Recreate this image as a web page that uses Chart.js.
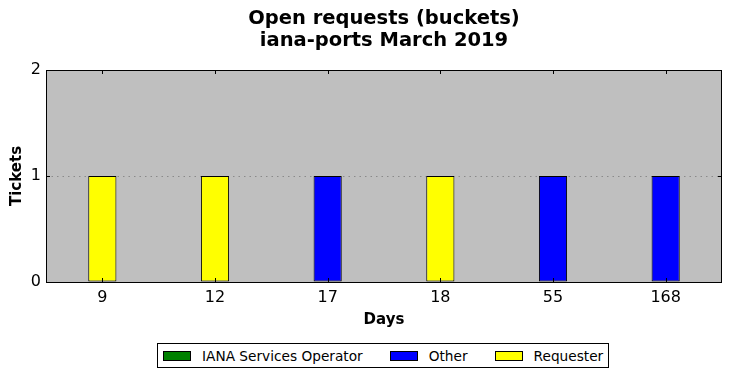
<!DOCTYPE html>
<html>
<head>
<meta charset="utf-8">
<script src="https://cdn.jsdelivr.net/npm/chart.js@4/dist/chart.umd.min.js"></script>
<style>
  html, body { margin: 0; padding: 0; background: #fff; }
  #wrap { position: relative; width: 731px; height: 378px; }
  #legend {
    position: absolute; left: 157px; top: 343px; height: 23px;
    border: 1px solid #000; background: #fff; box-sizing: content-box;
    display: flex; align-items: center; padding: 0 5px;
    font-family: "DejaVu Sans", sans-serif; font-size: 13.7px; color: #000;
    white-space: nowrap;
  }
  .item { display: flex; align-items: center; margin-right: 27px; }
  .item:last-child { margin-right: 0; }
  .box { width: 26px; height: 8px; border: 1px solid #000; margin-right: 11px; }
</style>
</head>
<body>
<div id="wrap">
  <canvas id="c" width="731" height="378"></canvas>
  <div id="legend"></div>
</div>
<script>
const titleLines = ["Open requests (buckets)", "iana-ports March 2019"];
const categories = ["9", "12", "17", "18", "55", "168"];
const seriesNames = ["IANA Services Operator", "Other", "Requester"];
const seriesColors = ["#008000", "#0000ff", "#ffff00"];
const ianaValues = [0, 0, 0, 0, 0, 0];
const otherValues = [0, 0, 1, 0, 1, 1];
const requesterValues = [1, 1, 0, 1, 0, 0];
const yTicks = [0, 1, 2];
const xTitle = "Days";
const yTitle = "Tickets";

const seriesValues = [ianaValues, otherValues, requesterValues];
const FONT = '"DejaVu Sans", sans-serif';

const frame = {
  id: 'frame',
  beforeDraw(chart) {
    const {ctx, chartArea: a} = chart;
    ctx.save();
    ctx.fillStyle = '#bfbfbf';
    ctx.fillRect(a.left, a.top, a.right - a.left, a.bottom - a.top);
    ctx.restore();
  },
  afterDraw(chart) {
    const {ctx, chartArea: a, scales} = chart;
    ctx.save();
    ctx.strokeStyle = '#000';
    ctx.lineWidth = 1;
    ctx.strokeRect(Math.round(a.left) + 0.5, Math.round(a.top) + 0.5,
                   Math.round(a.right - a.left) - 1, Math.round(a.bottom - a.top));
    ctx.beginPath();
    const xs = scales.x;
    categories.forEach((c, i) => {
      const px = Math.round(xs.getPixelForTick(i)) + 0.5;
      ctx.moveTo(px, a.top); ctx.lineTo(px, a.top + 4);
      ctx.moveTo(px, a.bottom); ctx.lineTo(px, a.bottom - 4);
    });
    const ys = scales.y;
    yTicks.forEach(v => {
      const py = Math.round(ys.getPixelForValue(v)) + 0.5;
      ctx.moveTo(a.left, py); ctx.lineTo(a.left + 4, py);
      ctx.moveTo(a.right, py); ctx.lineTo(a.right - 4, py);
    });
    ctx.stroke();
    // title
    ctx.fillStyle = '#000';
    ctx.font = 'bold 19.5px ' + FONT;
    ctx.textAlign = 'center';
    ctx.textBaseline = 'middle';
    const cx = (a.left + a.right) / 2;
    ctx.fillText(titleLines[0], cx, 19);
    ctx.fillText(titleLines[1], cx, 41);
    ctx.restore();
  }
};

const datasets = seriesNames.map((name, i) => ({
  label: name,
  data: seriesValues[i].map(v => v === 0 ? null : v),
  backgroundColor: seriesColors[i],
  borderColor: '#000',
  borderWidth: 1,
  borderSkipped: false,
  barPercentage: 0.25,
  categoryPercentage: 1.0
}));

new Chart(document.getElementById('c'), {
  type: 'bar',
  data: { labels: categories, datasets },
  plugins: [frame],
  options: {
    responsive: false,
    animation: false,
    layout: { padding: { left: 0, right: 9, top: 70, bottom: 0 } },
    plugins: { legend: { display: false }, title: { display: false }, tooltip: { enabled: false } },
    scales: {
      x: {
        stacked: true,
        grid: { display: false, drawTicks: false },
        border: { display: false },
        ticks: { color: '#000', font: { family: FONT, size: 16 }, padding: 6, maxRotation: 0 },
        title: { display: true, text: xTitle, color: '#000', font: { family: FONT, size: 15, weight: 'bold' }, padding: { top: 0, bottom: 49 } },
        afterFit(s) { s.height = 96; }
      },
      y: {
        stacked: true,
        min: 0, max: 2,
        afterBuildTicks(s) { s.ticks = yTicks.map(v => ({ value: v })); },
        grid: { color: '#8a8a8a', lineWidth: 1, drawTicks: false },
        border: { display: false, dash: [1.5, 4] },
        ticks: { color: '#000', font: { family: FONT, size: 16 }, padding: 5 },
        title: { display: true, text: yTitle, color: '#000', font: { family: FONT, size: 15, weight: 'bold' }, padding: { top: 8, bottom: 0 } },
        afterFit(s) { s.width = 46; }
      }
    }
  }
});

const leg = document.getElementById('legend');
seriesNames.forEach((n, i) => {
  const it = document.createElement('div');
  it.className = 'item';
  const b = document.createElement('span');
  b.className = 'box';
  b.style.background = seriesColors[i];
  const t = document.createElement('span');
  t.textContent = n;
  it.appendChild(b); it.appendChild(t);
  leg.appendChild(it);
});
</script>
</body>
</html>
